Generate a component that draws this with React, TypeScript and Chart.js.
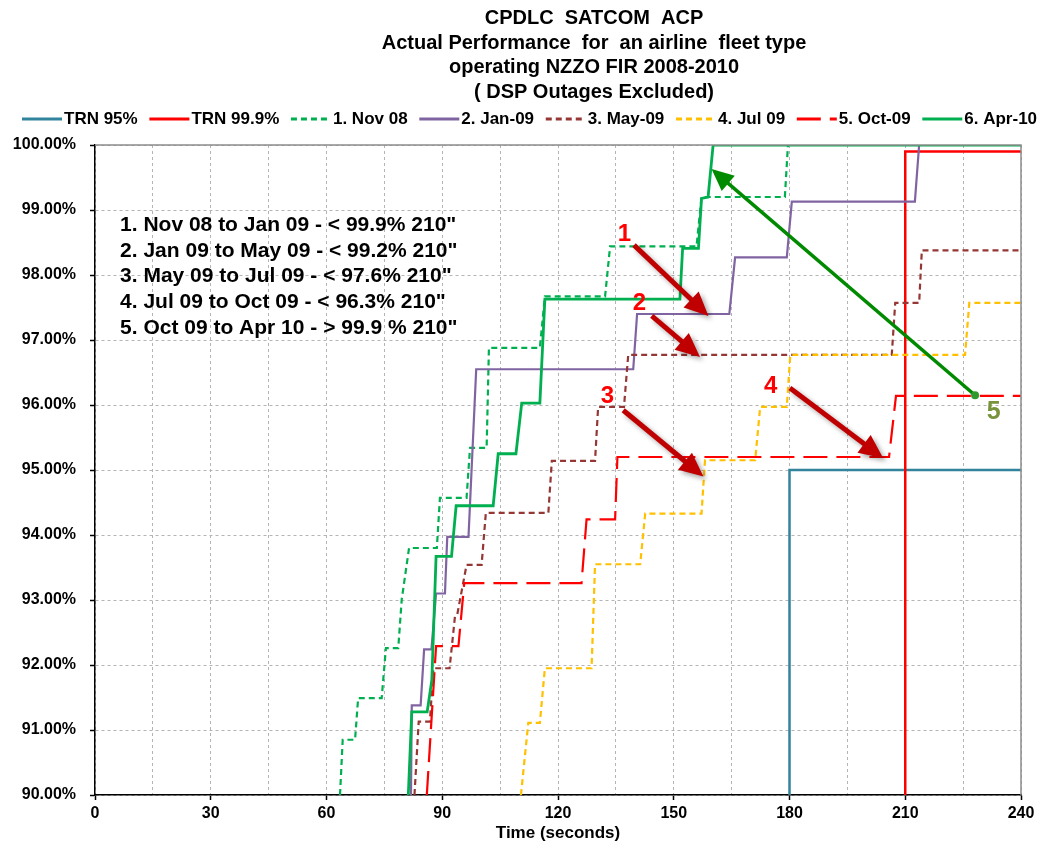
import React, { useEffect, useRef } from 'react';
import { Chart, registerables } from 'chart.js';

Chart.register(...registerables);

const W = 1043;
const H = 846;
const FONT = '"Liberation Sans", Arial, Helvetica, sans-serif';

// ---------- text ----------
const titleLines = [
  'CPDLC  SATCOM  ACP',
  'Actual Performance  for  an airline  fleet type',
  'operating NZZO FIR 2008-2010',
  '( DSP Outages Excluded)',
];
const xAxisTitle = 'Time (seconds)';
const noteLines = [
  '1. Nov 08 to Jan 09 - < 99.9% 210"',
  '2. Jan 09 to May 09 - < 99.2% 210"',
  '3. May 09 to Jul 09 - < 97.6% 210"',
  '4. Jul 09 to Oct 09 - < 96.3% 210"',
  '5. Oct 09 to Apr 10 - > 99.9 % 210"',
];
const seriesNames = ['TRN 95%', 'TRN 99.9%', '1. Nov 08', '2. Jan-09', '3. May-09', '4. Jul 09', '5. Oct-09', '6. Apr-10'];

// ---------- axes ----------
const xMin = 0;
const xMax = 240;
const xGridStep = 15;
const xLabelStep = 30;
const yMin = 90;
const yMax = 100;
const yStep = 1;

// ---------- series (x = seconds, y = cumulative %) ----------
const trn95X = [180, 180, 240];
const trn95Y = [90, 95, 95];

const trn999X = [210, 210, 240];
const trn999Y = [90, 99.9, 99.9];

const nov08X = [63.5, 64.2, 67.4, 68.2, 74.3, 75.4, 78.6, 79.5, 81.4, 88.6, 89.4, 96.3, 97.2, 101.5, 102.1, 115.3, 116.6, 132.2, 133.5, 155.9, 157.2, 178.8, 179.6, 240];
const nov08Y = [90, 90.85, 90.85, 91.49, 91.49, 92.26, 92.26, 93.01, 93.8, 93.8, 94.57, 94.57, 95.34, 95.34, 96.88, 96.88, 97.67, 97.67, 98.44, 98.44, 99.2, 99.2, 100, 100];

const jan09X = [81.9, 82.1, 84.4, 85.3, 87.2, 88.4, 90.7, 91.3, 96.8, 98.8, 139.5, 140.5, 164.4, 165.9, 179.3, 180.6, 212.5, 213.6, 240];
const jan09Y = [90, 91.38, 91.38, 92.24, 92.24, 93.1, 93.1, 93.97, 93.97, 96.55, 96.55, 97.4, 97.4, 98.27, 98.27, 99.13, 99.13, 100, 100];

const may09X = [82.8, 83.9, 86.8, 87.7, 91.9, 93.3, 93.9, 96.3, 100.2, 101.3, 117.5, 118.4, 129.6, 130.4, 137.1, 138.2, 206.5, 207.4, 213.6, 214.3, 240];
const may09Y = [90, 91.13, 91.13, 91.95, 91.95, 92.75, 92.78, 93.54, 93.54, 94.34, 94.34, 95.14, 95.14, 95.97, 95.97, 96.77, 96.77, 97.57, 97.57, 98.38, 98.38];

const jul09X = [110.4, 112.3, 115.3, 116.6, 128.7, 129.6, 141.3, 142.6, 157.2, 158.1, 171.1, 172.4, 179.3, 180.2, 225.5, 226.6, 240];
const jul09Y = [90, 91.11, 91.11, 91.95, 91.95, 93.55, 93.55, 94.33, 94.33, 95.15, 95.15, 95.97, 95.97, 96.77, 96.77, 97.57, 97.57];

const oct09X = [86.0, 88.4, 94.2, 95.7, 126.1, 127.4, 134.8, 135.4, 205.8, 207.6, 240];
const oct09Y = [90, 92.29, 92.29, 93.26, 93.26, 94.24, 94.24, 95.2, 95.2, 96.14, 96.14];

const apr10X = [81.2, 82.1, 86.1, 87.3, 88.4, 92.4, 93.6, 103.2, 104.5, 109.1, 110.6, 115.3, 116.6, 151.6, 152.3, 156.4, 157.2, 158.9, 160.2, 240];
const apr10Y = [90, 91.28, 91.28, 91.77, 93.67, 93.67, 94.45, 94.45, 95.25, 95.25, 96.03, 96.03, 97.63, 97.63, 98.41, 98.41, 99.18, 99.2, 100, 100];

const seriesX = [trn95X, trn999X, nov08X, jan09X, may09X, jul09X, oct09X, apr10X];
const seriesY = [trn95Y, trn999Y, nov08Y, jan09Y, may09Y, jul09Y, oct09Y, apr10Y];

// ---------- annotations (data units) ----------
const arrowFromX = [139.7, 144.3, 136.9, 180.1];
const arrowFromY = [98.46, 97.37, 95.92, 96.26];
const arrowToX = [159.0, 156.8, 157.7, 204.3];
const arrowToY = [97.37, 96.74, 94.9, 95.18];
const arrowTexts = ['1', '2', '3', '4'];
const arrowTextX = [137.2, 141.1, 132.8, 175.1];
const arrowTextY = [98.63, 97.57, 96.13, 96.28];

const greenArrowFrom = [228.1, 96.15];
const greenArrowTo = [159.8, 99.63];
const greenText = '5';
const greenTextPos = [232.9, 95.89];

const notePos = [6.5, 98.77];
const noteLineGap = 0.397; // % units between lines

// ---------- styles ----------
const seriesStyles = [
  { color: '#31849B', width: 2.5, dash: [] as number[] },
  { color: '#FF0000', width: 2.5, dash: [] as number[] },
  { color: '#00B050', width: 2.2, dash: [6, 4] },
  { color: '#8064A2', width: 2.2, dash: [] as number[] },
  { color: '#953735', width: 2.2, dash: [6, 4] },
  { color: '#FFC000', width: 2.2, dash: [6, 4] },
  { color: '#FF0000', width: 2.2, dash: [24, 9] },
  { color: '#00B050', width: 2.8, dash: [] as number[] },
];

function drawArrow(ctx: CanvasRenderingContext2D, x1: number, y1: number, x2: number, y2: number, width: number, headLen: number, headHalf: number, color: string) {
  const ang = Math.atan2(y2 - y1, x2 - x1);
  const c = Math.cos(ang);
  const s = Math.sin(ang);
  const bx = x2 - headLen * c;
  const by = y2 - headLen * s;
  ctx.strokeStyle = color;
  ctx.fillStyle = color;
  ctx.lineWidth = width;
  ctx.lineCap = 'butt';
  ctx.setLineDash([]);
  ctx.beginPath();
  ctx.moveTo(x1, y1);
  ctx.lineTo(bx + 2 * c, by + 2 * s);
  ctx.stroke();
  ctx.beginPath();
  ctx.moveTo(x2, y2);
  ctx.lineTo(bx + headHalf * s, by - headHalf * c);
  ctx.lineTo(bx - headHalf * s, by + headHalf * c);
  ctx.closePath();
  ctx.fill();
}

const overlayPlugin = {
  id: 'overlay',
  afterDatasetsDraw(chart: any) {
    const ctx: CanvasRenderingContext2D = chart.ctx;
    const xs = chart.scales.x;
    const ys = chart.scales.y;
    const area = chart.chartArea;
    ctx.save();
    // top / right frame
    ctx.strokeStyle = '#8C8C8C';
    ctx.lineWidth = 1.5;
    ctx.setLineDash([]);
    ctx.beginPath();
    ctx.moveTo(area.left, area.top);
    ctx.lineTo(area.right, area.top);
    ctx.lineTo(area.right, area.bottom);
    ctx.stroke();

    // note box text
    ctx.fillStyle = '#000';
    ctx.font = `bold 21px ${FONT}`;
    ctx.textAlign = 'left';
    ctx.textBaseline = 'middle';
    noteLines.forEach((t, i) => {
      ctx.fillText(t, xs.getPixelForValue(notePos[0]), ys.getPixelForValue(notePos[1] - i * noteLineGap));
    });

    // dark red arrows with shadow
    ctx.save();
    ctx.shadowColor = 'rgba(0,0,0,0.35)';
    ctx.shadowBlur = 5;
    ctx.shadowOffsetX = 3;
    ctx.shadowOffsetY = 3;
    for (let i = 0; i < arrowFromX.length; i++) {
      drawArrow(
        ctx,
        xs.getPixelForValue(arrowFromX[i]), ys.getPixelForValue(arrowFromY[i]),
        xs.getPixelForValue(arrowToX[i]), ys.getPixelForValue(arrowToY[i]),
        5, 24, 11, '#C00000'
      );
    }
    ctx.restore();

    // green arrow
    const gx1 = xs.getPixelForValue(greenArrowFrom[0]);
    const gy1 = ys.getPixelForValue(greenArrowFrom[1]);
    drawArrow(ctx, gx1, gy1, xs.getPixelForValue(greenArrowTo[0]), ys.getPixelForValue(greenArrowTo[1]), 3.5, 22, 10, '#008A00');
    ctx.fillStyle = '#2E9A2E';
    ctx.beginPath();
    ctx.arc(gx1, gy1, 4, 0, Math.PI * 2);
    ctx.fill();

    // numbers
    ctx.textAlign = 'center';
    ctx.textBaseline = 'middle';
    ctx.font = `bold 24px ${FONT}`;
    ctx.fillStyle = '#FF0000';
    arrowTexts.forEach((t, i) => {
      ctx.fillText(t, xs.getPixelForValue(arrowTextX[i]), ys.getPixelForValue(arrowTextY[i]));
    });
    ctx.font = `bold 25px ${FONT}`;
    ctx.fillStyle = '#77933C';
    ctx.fillText(greenText, xs.getPixelForValue(greenTextPos[0]), ys.getPixelForValue(greenTextPos[1]));
    ctx.restore();
  },
  afterDraw(chart: any) {
    const ctx: CanvasRenderingContext2D = chart.ctx;
    ctx.save();
    // title
    ctx.fillStyle = '#000';
    ctx.font = `bold 20px ${FONT}`;
    ctx.textAlign = 'center';
    ctx.textBaseline = 'middle';
    titleLines.forEach((t, i) => {
      ctx.fillText(t, 594, 18.5 + i * 24.5);
    });
    // legend
    ctx.font = `bold 17px ${FONT}`;
    ctx.textAlign = 'left';
    let x = 22;
    const ly = 119;
    seriesNames.forEach((name, i) => {
      const st = seriesStyles[i];
      ctx.strokeStyle = st.color;
      ctx.lineWidth = 3;
      ctx.setLineDash(st.dash);
      ctx.beginPath();
      ctx.moveTo(x, ly);
      ctx.lineTo(x + 40, ly);
      ctx.stroke();
      ctx.setLineDash([]);
      ctx.fillStyle = '#000';
      ctx.fillText(name, x + 42, ly);
      x += 42 + ctx.measureText(name).width + 11.7;
    });
    ctx.restore();
  },
};

export default function App() {
  const ref = useRef<HTMLCanvasElement | null>(null);
  useEffect(() => {
    const canvas = ref.current;
    if (!canvas) return;
    const datasets = seriesNames.map((name, i) => ({
      label: name,
      data: seriesX[i].map((xv, j) => ({ x: xv, y: seriesY[i][j] })),
      showLine: true,
      borderColor: seriesStyles[i].color,
      backgroundColor: seriesStyles[i].color,
      borderWidth: seriesStyles[i].width,
      borderDash: seriesStyles[i].dash,
      pointRadius: 0,
      pointHoverRadius: 0,
      fill: false,
      tension: 0,
      order: seriesNames.length - i,
    }));
    const tickFont = { family: FONT, size: 16, weight: 'bold' as const };
    const chart = new Chart(canvas, {
      type: 'scatter',
      data: { datasets },
      options: {
        animation: false,
        responsive: false,
        maintainAspectRatio: false,
        layout: { padding: { top: 145, right: 22, left: 0, bottom: 0 } },
        plugins: {
          legend: { display: false },
          title: { display: false },
          tooltip: { enabled: false },
        },
        scales: {
          x: {
            type: 'linear',
            min: xMin,
            max: xMax,
            afterFit: (s: any) => { s.height = 51; },
            ticks: {
              stepSize: xGridStep,
              autoSkip: false,
              maxRotation: 0,
              padding: 4,
              color: '#000',
              font: tickFont,
              callback: (v: any) => (Number(v) % xLabelStep === 0 ? String(v) : ''),
            },
            grid: {
              color: '#B4B4B4',
              lineWidth: 1,
              tickLength: 5,
              tickWidth: 1.5,
              tickColor: (c: any) => (c.tick && c.tick.value % xLabelStep === 0 ? '#000' : 'rgba(0,0,0,0)'),
            },
            border: { color: '#000', width: 1.5, dash: [3, 3] },
            title: {
              display: true,
              text: xAxisTitle,
              color: '#000',
              font: { family: FONT, size: 17, weight: 'bold' },
              padding: { top: 0, bottom: 2 },
            },
          },
          y: {
            min: yMin,
            max: yMax,
            afterFit: (s: any) => { s.width = 95; },
            ticks: {
              stepSize: yStep,
              padding: 14,
              color: '#000',
              font: tickFont,
              callback: (v: any) => Number(v).toFixed(2) + '%',
            },
            grid: {
              color: '#B4B4B4',
              lineWidth: 1,
              tickLength: 5,
              tickWidth: 1.5,
              tickColor: '#000',
            },
            border: { color: '#000', width: 1.5, dash: [3, 3] },
          },
        },
      },
      plugins: [overlayPlugin],
    } as any);
    return () => chart.destroy();
  }, []);
  return (
    <div style={{ position: 'absolute', left: 0, top: 0, width: W, height: H, background: '#fff' }}>
      <canvas ref={ref} width={W} height={H} style={{ display: 'block' }} />
    </div>
  );
}
